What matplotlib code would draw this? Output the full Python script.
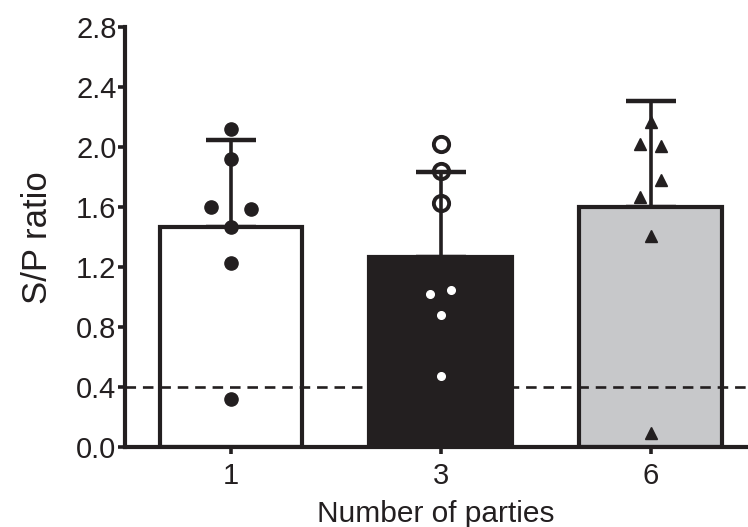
import matplotlib.pyplot as plt
import numpy as np

plt.rcParams['font.family'] = ['Liberation Sans', 'DejaVu Sans']

# data
groups = ['1', '3', '6']
means = [1.47, 1.27, 1.60]
sd_upper = [0.58, 0.565, 0.71]
points_1 = [2.12, 1.92, 1.60, 1.59, 1.47, 1.23, 0.32]
points_3 = [2.02, 1.84, 1.63, 1.02, 1.05, 0.88, 0.47]
points_6 = [2.17, 2.02, 2.01, 1.78, 1.67, 1.41, 0.09]
offsets_1 = [0, 0, -0.095, 0.095, 0, 0, 0]
offsets_3 = [0, 0, 0, -0.05, 0.05, 0, 0]
offsets_6 = [0, -0.05, 0.05, 0.05, -0.05, 0, 0]
cutoff = 0.4

ink = '#231f20'
bar_colors = ['white', ink, '#c7c8ca']

fig = plt.figure(figsize=(7.48, 5.27), dpi=100)
ax = fig.add_axes([0.167, 0.152, 0.832, 0.796])

x = np.arange(len(groups))
width = 0.68

# error bars (upper only), drawn under the bars
ax.errorbar(x, means, yerr=[np.zeros(len(means)), sd_upper], fmt='none',
            ecolor=ink, elinewidth=2.6, capsize=18, capthick=3.2, zorder=1)
ax.bar(x, means, width=width, color=bar_colors, edgecolor=ink,
       linewidth=3.0, zorder=2)

ax.axhline(cutoff, color=ink, linestyle=(0, (4, 2.6)), linewidth=1.9, zorder=3)

ax.plot(x[0] + np.array(offsets_1), points_1, 'o', color=ink,
        markersize=9.5, zorder=4)
ax.plot(x[1] + np.array(offsets_3[:3]), points_3[:3], 'o', mfc='none',
        mec=ink, mew=2.8, markersize=11, zorder=4)
ax.plot(x[1] + np.array(offsets_3[3:]), points_3[3:], 'o', color='white',
        markersize=5.5, zorder=4)
ax.plot(x[2] + np.array(offsets_6), points_6, '^', color=ink,
        markersize=9, zorder=4)

ax.set_xlim(-0.505, 2.46)
ax.set_ylim(0, 2.8)
ax.set_yticks(np.arange(0, 2.81, 0.4))
ax.set_yticklabels([f'{v:.1f}' for v in np.arange(0, 2.81, 0.4)])
ax.set_xticks(x)
ax.set_xticklabels(groups)

for side in ['top', 'right']:
    ax.spines[side].set_visible(False)
for side in ['left', 'bottom']:
    ax.spines[side].set_linewidth(3.0)
    ax.spines[side].set_color(ink)

ax.tick_params(axis='both', length=5, width=2.6, color=ink,
               labelsize=21, labelcolor=ink, pad=1)
ax.tick_params(axis='x', pad=6)

ax.set_ylabel('S/P ratio', fontsize=25, color=ink, labelpad=16)
ax.set_xlabel('Number of parties', fontsize=21.5, color=ink, labelpad=7)

fig.savefig('out.png', dpi=100)
